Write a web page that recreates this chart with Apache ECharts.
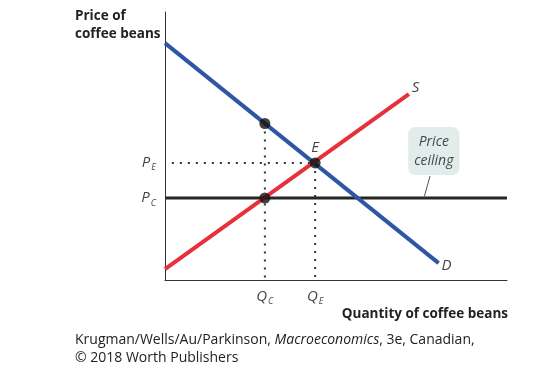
<!DOCTYPE html>
<html>
<head>
<meta charset="utf-8">
<script src="https://cdn.jsdelivr.net/npm/echarts@6/dist/echarts.min.js"></script>
<style>
html,body{margin:0;padding:0;background:#fff;}
#c{width:559px;height:374px;}
</style>
</head>
<body>
<div id="c"></div>
<script>
// Data (quantity on x, price on y, both on a 0–100 scale)
const demandQ = [0, 80];
const demandP = [88.4, 6.3];
const supplyQ = [0, 71.3];
const supplyP = [4.1, 69.4];
const ceilingQ = [0, 100];
const ceilingP = 30.6;
const Qc = 29.2;     // quantity supplied under ceiling
const Qe = 43.9;     // equilibrium quantity
const Pe = 43.7;     // equilibrium price
const Pd = 58.4;     // demand price at Qc
const calloutPos = [78.6, 48.1];
const leader = [[77.5, 38.8], [75.7, 30.6]];

const FONT = "'Open Sans', 'DejaVu Sans', sans-serif";
const txt = '#111';

const sub = (main, s) => '{p|' + main + '}{s|' + s + '}';
const subRich = {
  p: {fontStyle: 'italic', fontSize: 15, color: txt, fontFamily: FONT},
  s: {fontStyle: 'italic', fontSize: 9, color: txt, fontFamily: FONT, verticalAlign: 'top', padding: [10, 0, 0, 1]}
};

const chart = echarts.init(document.getElementById('c'), null, {renderer: 'canvas'});

const dotted = {color: '#333', width: 2, type: [2, 6]};

chart.setOption({
  animation: false,
  backgroundColor: '#fff',
  grid: {left: 165, top: 12, width: 342, height: 268},
  xAxis: {
    type: 'value', min: 0, max: 100,
    axisLine: {show: true, lineStyle: {color: '#333', width: 1}},
    axisTick: {show: false}, axisLabel: {show: false}, splitLine: {show: false}
  },
  yAxis: {
    type: 'value', min: 0, max: 100,
    axisLine: {show: true, lineStyle: {color: '#333', width: 1}},
    axisTick: {show: false}, axisLabel: {show: false}, splitLine: {show: false}
  },
  series: [
    // dotted guide lines
    {type: 'line', symbol: 'none', lineStyle: dotted, z: 1,
      data: [[2, Pe], [Qe, Pe]]},
    {type: 'line', symbol: 'none', lineStyle: dotted, z: 1,
      data: [[Qc, Pd], [Qc, 0]]},
    {type: 'line', symbol: 'none', lineStyle: dotted, z: 1,
      data: [[Qe, Pe], [Qe, 0]]},
    // price ceiling
    {type: 'line', symbol: 'none', z: 2,
      lineStyle: {color: '#262626', width: 3},
      data: ceilingQ.map(q => [q, ceilingP])},
    // leader line of callout
    {type: 'line', symbol: 'none', z: 2,
      lineStyle: {color: '#555', width: 1},
      data: leader},
    // demand
    {type: 'line', symbol: 'none', z: 3,
      lineStyle: {color: '#2f55a5', width: 4},
      data: demandQ.map((q, i) => [q, demandP[i]])},
    // supply
    {type: 'line', symbol: 'none', z: 3,
      lineStyle: {color: '#e8303c', width: 4},
      data: supplyQ.map((q, i) => [q, supplyP[i]])},
    // points
    {type: 'scatter', symbolSize: 11, z: 5,
      itemStyle: {color: '#111'},
      data: [[Qc, Pd], [Qe, Pe], [Qc, ceilingP]],
      label: {show: true, position: 'top', distance: 2,
        formatter: p => p.dataIndex === 1 ? 'E' : '',
        fontStyle: 'italic', fontSize: 15, color: txt, fontFamily: FONT, textBorderWidth: 0}
    },
    // line end labels
    {type: 'scatter', symbolSize: 0, z: 6,
      data: [
        {value: [supplyQ[1], supplyP[1]], label: {formatter: 'S', position: [3, -14]}},
        {value: [demandQ[1], demandP[1]], label: {formatter: 'D', position: [3, -5]}}
      ],
      label: {show: true, fontStyle: 'italic', fontSize: 15, color: txt, fontFamily: FONT, textBorderWidth: 0}
    },
    // axis value labels (P_E, P_C)
    {type: 'scatter', symbolSize: 0, z: 6,
      data: [
        {value: [0, Pe], label: {formatter: sub('P', 'E')}},
        {value: [0, ceilingP], label: {formatter: sub('P', 'C')}}
      ],
      label: {show: true, position: 'left', distance: 9, fontSize: 15, color: txt, textBorderWidth: 0, rich: subRich}
    },
    // axis value labels (Q_C, Q_E)
    {type: 'scatter', symbolSize: 0, z: 6,
      data: [
        {value: [Qc, 0], label: {formatter: sub('Q', 'C')}},
        {value: [Qe, 0], label: {formatter: sub('Q', 'E')}}
      ],
      label: {show: true, position: 'bottom', distance: 7, fontSize: 15, color: txt, textBorderWidth: 0, rich: subRich}
    },
    // price ceiling callout
    {type: 'scatter', symbolSize: 0, z: 6,
      data: [calloutPos],
      label: {show: true, position: 'inside', formatter: 'Price\nceiling',
        backgroundColor: '#dbe7e6', borderRadius: 7, padding: [5, 6, 5, 6],
        lineHeight: 19, align: 'center', textBorderWidth: 0,
        fontStyle: 'italic', fontSize: 14, color: '#1a1a1a', fontFamily: FONT}
    }
  ],
  graphic: [
    {type: 'text', left: 75, top: 7, z: 10,
      style: {text: 'Price of\ncoffee beans', align: 'center', x: 47,
        font: "bold 13.5px 'Open Sans', sans-serif", fill: '#222', lineHeight: 18}},
    {type: 'text', right: 559 - 508, top: 307, z: 10,
      style: {text: 'Quantity of coffee beans', align: 'right',
        font: "bold 13.5px 'Open Sans', sans-serif", fill: '#222'}},
    {type: 'text', left: 75, top: 333, z: 10,
      style: {
        text: '{r|Krugman/Wells/Au/Parkinson, }{i|Macroeconomics}{r|, 3e, Canadian,}\n{r|© 2018 Worth Publishers}',
        rich: {
          r: {font: "14px 'Open Sans', sans-serif", fill: '#222', lineHeight: 18},
          i: {font: "italic 14px 'Open Sans', sans-serif", fill: '#222', lineHeight: 18}
        }
      }}
  ]
});
</script>
</body>
</html>
